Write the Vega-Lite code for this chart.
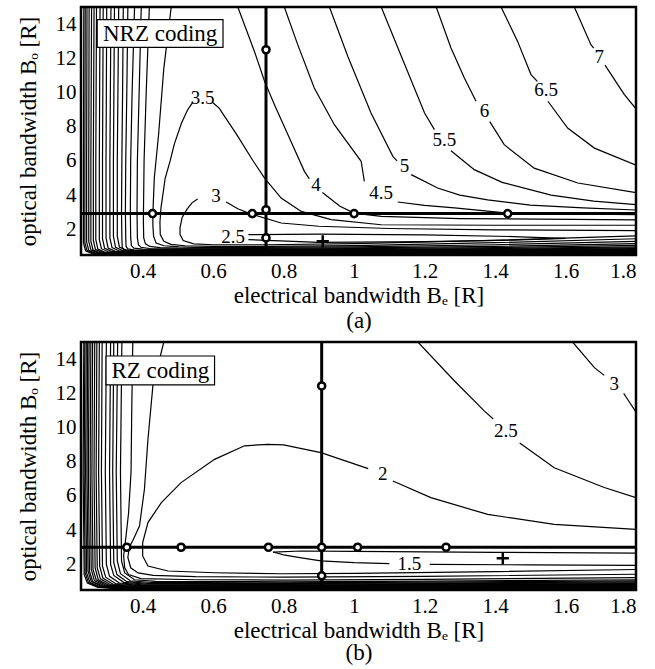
{
"$schema": "https://vega.github.io/schema/vega-lite/v6.json",
"padding": {"left": 15, "top": 4, "right": 5, "bottom": 1},
"spacing": 5,
"config": {
 "view": {"stroke": "#000", "strokeWidth": 2.5},
 "font": "Liberation Serif",
 "text": {"font": "Liberation Serif"},
 "axis": {"labelFont": "Liberation Serif", "labelFontSize": 21, "labelColor": "#000", "titleFont": "Liberation Serif", "titleFontSize": 23, "titleFontWeight": "normal", "titleColor": "#000", "domain": false, "grid": false, "ticks": false, "labelPadding": 5, "titleLineHeight": 25}
},
"datasets": {
"aL": [
{"s":"a2.5","x":0.70,"y":1.69},{"s":"a2.5","x":0.9,"y":1.72},{"s":"a2.5","x":1.2,"y":1.68},{"s":"a2.5","x":1.45,"y":1.58},{"s":"a2.5","x":1.6,"y":1.47},{"s":"a2.5","x":1.45,"y":1.37},{"s":"a2.5","x":1.2,"y":1.28},{"s":"a2.5","x":0.9,"y":1.24},{"s":"a2.5","x":0.70,"y":1.40},
{"s":"a3L","x":1.8,"y":1.62},{"s":"a3L","x":1.4,"y":1.36},{"s":"a3L","x":1.0,"y":1.17},{"s":"a3L","x":0.75,"y":1.1},{"s":"a3L","x":0.6,"y":1.1},{"s":"a3L","x":0.545,"y":1.15},{"s":"a3L","x":0.515,"y":1.35},{"s":"a3L","x":0.506,"y":1.7},{"s":"a3L","x":0.506,"y":2.1},{"s":"a3L","x":0.512,"y":2.7},{"s":"a3L","x":0.525,"y":3.15},{"s":"a3L","x":0.54,"y":3.55},{"s":"a3L","x":0.556,"y":3.78},
{"s":"a3R","x":0.637,"y":3.6},{"s":"a3R","x":0.67,"y":3.2},{"s":"a3R","x":0.708,"y":2.89},{"s":"a3R","x":0.793,"y":2.37},{"s":"a3R","x":0.9,"y":2.18},{"s":"a3R","x":1.1,"y":2.05},{"s":"a3R","x":1.4,"y":1.97},{"s":"a3R","x":1.8,"y":1.92},
{"s":"a35L","x":1.8,"y":1.45},{"s":"a35L","x":1.4,"y":1.22},{"s":"a35L","x":1.0,"y":1.05},{"s":"a35L","x":0.75,"y":1.0},{"s":"a35L","x":0.6,"y":1.0},{"s":"a35L","x":0.52,"y":1.04},{"s":"a35L","x":0.48,"y":1.12},{"s":"a35L","x":0.46,"y":1.3},{"s":"a35L","x":0.45,"y":1.7},{"s":"a35L","x":0.449,"y":2.4},{"s":"a35L","x":0.452,"y":3.26},{"s":"a35L","x":0.464,"y":5.0},{"s":"a35L","x":0.478,"y":6.0},{"s":"a35L","x":0.49,"y":7.0},{"s":"a35L","x":0.51,"y":8.2},{"s":"a35L","x":0.528,"y":9.0},{"s":"a35L","x":0.543,"y":9.45},
{"s":"a35R","x":0.597,"y":9.45},{"s":"a35R","x":0.617,"y":9.09},{"s":"a35R","x":0.667,"y":7.54},{"s":"a35R","x":0.714,"y":5.98},{"s":"a35R","x":0.746,"y":5.0},{"s":"a35R","x":0.793,"y":3.83},{"s":"a35R","x":0.85,"y":3.05},{"s":"a35R","x":0.935,"y":2.57},{"s":"a35R","x":1.077,"y":2.27},{"s":"a35R","x":1.4,"y":2.24},{"s":"a35R","x":1.8,"y":2.24},
{"s":"a4L","x":1.8,"y":1.3},{"s":"a4L","x":1.4,"y":1.1},{"s":"a4L","x":1.0,"y":0.98},{"s":"a4L","x":0.7,"y":0.94},{"s":"a4L","x":0.55,"y":0.95},{"s":"a4L","x":0.504,"y":0.97},{"s":"a4L","x":0.46,"y":1.04},{"s":"a4L","x":0.438,"y":1.2},{"s":"a4L","x":0.431,"y":1.6},{"s":"a4L","x":0.429,"y":2.2},{"s":"a4L","x":0.429,"y":2.92},{"s":"a4L","x":0.433,"y":5.0},{"s":"a4L","x":0.445,"y":7.5},{"s":"a4L","x":0.46,"y":11.4},{"s":"a4L","x":0.481,"y":15},
{"s":"a4R1","x":0.67,"y":15},{"s":"a4R1","x":0.717,"y":12.41},{"s":"a4R1","x":0.746,"y":10.65},{"s":"a4R1","x":0.774,"y":9.29},{"s":"a4R1","x":0.812,"y":7.54},{"s":"a4R1","x":0.859,"y":5.39},{"s":"a4R1","x":0.873,"y":4.95},
{"s":"a4R2","x":0.91,"y":4.15},{"s":"a4R2","x":0.96,"y":3.35},{"s":"a4R2","x":1.0,"y":2.95},{"s":"a4R2","x":1.077,"y":2.76},{"s":"a4R2","x":1.3,"y":2.63},{"s":"a4R2","x":1.8,"y":2.55},
{"s":"a45L","x":1.8,"y":1.17},{"s":"a45L","x":1.4,"y":1.0},{"s":"a45L","x":1.0,"y":0.92},{"s":"a45L","x":0.7,"y":0.89},{"s":"a45L","x":0.5,"y":0.9},{"s":"a45L","x":0.45,"y":0.93},{"s":"a45L","x":0.42,"y":1.0},{"s":"a45L","x":0.408,"y":1.15},{"s":"a45L","x":0.403,"y":1.5},{"s":"a45L","x":0.402,"y":2.5},{"s":"a45L","x":0.404,"y":6},{"s":"a45L","x":0.41,"y":10},{"s":"a45L","x":0.419,"y":15},
{"s":"a45R1","x":0.802,"y":15},{"s":"a45R1","x":0.84,"y":12.8},{"s":"a45R1","x":0.887,"y":10.26},{"s":"a45R1","x":0.944,"y":8.12},{"s":"a45R1","x":1.02,"y":5.98},{"s":"a45R1","x":1.029,"y":4.81},
{"s":"a45R2","x":1.124,"y":3.6},{"s":"a45R2","x":1.2,"y":3.4},{"s":"a45R2","x":1.285,"y":3.25},{"s":"a45R2","x":1.436,"y":2.95},{"s":"a45R2","x":1.6,"y":2.9},{"s":"a45R2","x":1.8,"y":2.86},
{"s":"a5L","x":1.8,"y":1.06},{"s":"a5L","x":1.4,"y":0.93},{"s":"a5L","x":1.0,"y":0.87},{"s":"a5L","x":0.7,"y":0.85},{"s":"a5L","x":0.48,"y":0.86},{"s":"a5L","x":0.42,"y":0.88},{"s":"a5L","x":0.395,"y":0.95},{"s":"a5L","x":0.388,"y":1.1},{"s":"a5L","x":0.385,"y":1.5},{"s":"a5L","x":0.384,"y":3},{"s":"a5L","x":0.385,"y":6},{"s":"a5L","x":0.39,"y":10},{"s":"a5L","x":0.396,"y":15},
{"s":"a5R1","x":0.93,"y":15},{"s":"a5R1","x":0.982,"y":12.12},{"s":"a5R1","x":1.048,"y":8.8},{"s":"a5R1","x":1.11,"y":6.27},{"s":"a5R1","x":1.122,"y":6.0},
{"s":"a5R2","x":1.162,"y":5.2},{"s":"a5R2","x":1.237,"y":4.42},{"s":"a5R2","x":1.3,"y":4.0},{"s":"a5R2","x":1.379,"y":3.72},{"s":"a5R2","x":1.5,"y":3.42},{"s":"a5R2","x":1.65,"y":3.25},{"s":"a5R2","x":1.8,"y":3.13},
{"s":"a55L","x":1.8,"y":0.98},{"s":"a55L","x":1.4,"y":0.88},{"s":"a55L","x":1.0,"y":0.83},{"s":"a55L","x":0.7,"y":0.81},{"s":"a55L","x":0.45,"y":0.82},{"s":"a55L","x":0.4,"y":0.84},{"s":"a55L","x":0.375,"y":0.9},{"s":"a55L","x":0.368,"y":1.05},{"s":"a55L","x":0.366,"y":1.5},{"s":"a55L","x":0.365,"y":3},{"s":"a55L","x":0.366,"y":6},{"s":"a55L","x":0.37,"y":10},{"s":"a55L","x":0.377,"y":15},
{"s":"a55R1","x":1.077,"y":15},{"s":"a55R1","x":1.134,"y":12.12},{"s":"a55R1","x":1.2,"y":8.8},{"s":"a55R1","x":1.228,"y":7.83},
{"s":"a55R2","x":1.275,"y":6.6},{"s":"a55R2","x":1.341,"y":5.49},{"s":"a55R2","x":1.42,"y":4.75},{"s":"a55R2","x":1.559,"y":4.0},{"s":"a55R2","x":1.68,"y":3.65},{"s":"a55R2","x":1.8,"y":3.44},
{"s":"a6L","x":1.8,"y":0.92},{"s":"a6L","x":1.4,"y":0.84},{"s":"a6L","x":1.0,"y":0.8},{"s":"a6L","x":0.7,"y":0.78},{"s":"a6L","x":0.42,"y":0.78},{"s":"a6L","x":0.375,"y":0.8},{"s":"a6L","x":0.358,"y":0.86},{"s":"a6L","x":0.353,"y":1.0},{"s":"a6L","x":0.352,"y":1.5},{"s":"a6L","x":0.351,"y":3},{"s":"a6L","x":0.352,"y":6},{"s":"a6L","x":0.355,"y":10},{"s":"a6L","x":0.358,"y":15},
{"s":"a6R1","x":1.233,"y":15},{"s":"a6R1","x":1.275,"y":12.6},{"s":"a6R1","x":1.313,"y":10.85},{"s":"a6R1","x":1.346,"y":9.49},
{"s":"a6R2","x":1.385,"y":8.3},{"s":"a6R2","x":1.426,"y":6.95},{"s":"a6R2","x":1.511,"y":5.58},{"s":"a6R2","x":1.635,"y":4.71},{"s":"a6R2","x":1.8,"y":4.15},
{"s":"a65L","x":1.8,"y":0.87},{"s":"a65L","x":1.4,"y":0.8},{"s":"a65L","x":1.0,"y":0.77},{"s":"a65L","x":0.7,"y":0.75},{"s":"a65L","x":0.4,"y":0.75},{"s":"a65L","x":0.36,"y":0.77},{"s":"a65L","x":0.346,"y":0.82},{"s":"a65L","x":0.342,"y":0.95},{"s":"a65L","x":0.341,"y":1.5},{"s":"a65L","x":0.34,"y":3},{"s":"a65L","x":0.341,"y":6},{"s":"a65L","x":0.343,"y":10},{"s":"a65L","x":0.345,"y":15},
{"s":"a65R1","x":1.417,"y":15},{"s":"a65R1","x":1.464,"y":12.99},{"s":"a65R1","x":1.502,"y":11.05},{"s":"a65R1","x":1.52,"y":10.65},
{"s":"a65R2","x":1.55,"y":9.49},{"s":"a65R2","x":1.606,"y":7.92},{"s":"a65R2","x":1.682,"y":6.75},{"s":"a65R2","x":1.8,"y":5.75},
{"s":"a7L","x":1.8,"y":0.83},{"s":"a7L","x":1.0,"y":0.75},{"s":"a7L","x":0.7,"y":0.72},{"s":"a7L","x":0.398,"y":0.73},{"s":"a7L","x":0.353,"y":0.79},{"s":"a7L","x":0.334,"y":0.97},{"s":"a7L","x":0.328,"y":1.6},{"s":"a7L","x":0.328,"y":6},{"s":"a7L","x":0.332,"y":15},
{"s":"a7R1","x":1.625,"y":15},{"s":"a7R1","x":1.672,"y":12.8},{"s":"a7R1","x":1.68,"y":12.6},
{"s":"a7R2","x":1.712,"y":11.6},{"s":"a7R2","x":1.767,"y":9.88},{"s":"a7R2","x":1.8,"y":9.05},
{"s":"a75","x":1.8,"y":0.79},{"s":"a75","x":1.0,"y":0.73},{"s":"a75","x":0.7,"y":0.70},{"s":"a75","x":0.387,"y":0.71},{"s":"a75","x":0.342,"y":0.77},{"s":"a75","x":0.323,"y":0.95},{"s":"a75","x":0.317,"y":1.6},{"s":"a75","x":0.317,"y":6},{"s":"a75","x":0.320,"y":15},
{"s":"a8","x":1.8,"y":0.77},{"s":"a8","x":1.0,"y":0.71},{"s":"a8","x":0.7,"y":0.68},{"s":"a8","x":0.377,"y":0.69},{"s":"a8","x":0.332,"y":0.75},{"s":"a8","x":0.313,"y":0.93},{"s":"a8","x":0.307,"y":1.5},{"s":"a8","x":0.307,"y":6},{"s":"a8","x":0.310,"y":15},
{"s":"a85","x":1.8,"y":0.75},{"s":"a85","x":1.0,"y":0.69},{"s":"a85","x":0.7,"y":0.66},{"s":"a85","x":0.366,"y":0.67},{"s":"a85","x":0.321,"y":0.73},{"s":"a85","x":0.302,"y":0.91},{"s":"a85","x":0.296,"y":1.5},{"s":"a85","x":0.296,"y":6},{"s":"a85","x":0.298,"y":15},
{"s":"a9","x":1.8,"y":0.73},{"s":"a9","x":1.0,"y":0.67},{"s":"a9","x":0.7,"y":0.64},{"s":"a9","x":0.356,"y":0.65},{"s":"a9","x":0.311,"y":0.71},{"s":"a9","x":0.292,"y":0.89},{"s":"a9","x":0.286,"y":1.45},{"s":"a9","x":0.286,"y":6},{"s":"a9","x":0.288,"y":15},
{"s":"a95","x":1.8,"y":0.71},{"s":"a95","x":1.0,"y":0.65},{"s":"a95","x":0.7,"y":0.62},{"s":"a95","x":0.347,"y":0.63},{"s":"a95","x":0.302,"y":0.69},{"s":"a95","x":0.283,"y":0.87},{"s":"a95","x":0.277,"y":1.4},{"s":"a95","x":0.277,"y":6},{"s":"a95","x":0.279,"y":15},
{"s":"a10","x":1.8,"y":0.69},{"s":"a10","x":1.0,"y":0.63},{"s":"a10","x":0.7,"y":0.60},{"s":"a10","x":0.337,"y":0.61},{"s":"a10","x":0.292,"y":0.67},{"s":"a10","x":0.273,"y":0.85},{"s":"a10","x":0.267,"y":1.4},{"s":"a10","x":0.267,"y":6},{"s":"a10","x":0.269,"y":15},
{"s":"a105","x":1.8,"y":0.67},{"s":"a105","x":1.0,"y":0.61},{"s":"a105","x":0.7,"y":0.585},{"s":"a105","x":0.33,"y":0.595},{"s":"a105","x":0.285,"y":0.655},{"s":"a105","x":0.266,"y":0.83},{"s":"a105","x":0.26,"y":1.35},{"s":"a105","x":0.26,"y":6},{"s":"a105","x":0.262,"y":15},
{"s":"a11","x":1.8,"y":0.65},{"s":"a11","x":1.0,"y":0.595},{"s":"a11","x":0.7,"y":0.57},{"s":"a11","x":0.323,"y":0.58},{"s":"a11","x":0.278,"y":0.64},{"s":"a11","x":0.259,"y":0.81},{"s":"a11","x":0.253,"y":1.3},{"s":"a11","x":0.253,"y":6},{"s":"a11","x":0.255,"y":15},
{"s":"a115","x":1.8,"y":0.63},{"s":"a115","x":1.0,"y":0.58},{"s":"a115","x":0.7,"y":0.555},{"s":"a115","x":0.317,"y":0.565},{"s":"a115","x":0.272,"y":0.625},{"s":"a115","x":0.253,"y":0.8},{"s":"a115","x":0.247,"y":1.3},{"s":"a115","x":0.247,"y":6},{"s":"a115","x":0.248,"y":15},
{"s":"a12","x":1.8,"y":0.61},{"s":"a12","x":1.0,"y":0.565},{"s":"a12","x":0.7,"y":0.54},{"s":"a12","x":0.311,"y":0.55},{"s":"a12","x":0.266,"y":0.61},{"s":"a12","x":0.247,"y":0.78},{"s":"a12","x":0.241,"y":1.25},{"s":"a12","x":0.241,"y":6},{"s":"a12","x":0.242,"y":15},
{"s":"a125","x":1.8,"y":0.59},{"s":"a125","x":1.0,"y":0.55},{"s":"a125","x":0.7,"y":0.525},{"s":"a125","x":0.306,"y":0.535},{"s":"a125","x":0.261,"y":0.595},{"s":"a125","x":0.242,"y":0.77},{"s":"a125","x":0.236,"y":1.2},{"s":"a125","x":0.236,"y":6},{"s":"a125","x":0.237,"y":15},
{"s":"a13","x":1.8,"y":0.57},{"s":"a13","x":1.0,"y":0.535},{"s":"a13","x":0.7,"y":0.51},{"s":"a13","x":0.302,"y":0.52},{"s":"a13","x":0.257,"y":0.58},{"s":"a13","x":0.238,"y":0.75},{"s":"a13","x":0.232,"y":1.2},{"s":"a13","x":0.232,"y":6},{"s":"a13","x":0.233,"y":15}
],
"bL": [
{"s":"b15U","x":0.77,"y":2.72},{"s":"b15U","x":0.85,"y":2.78},{"s":"b15U","x":1.0,"y":2.76},{"s":"b15U","x":1.4,"y":2.7},{"s":"b15U","x":1.8,"y":2.66},
{"s":"b15L1","x":0.77,"y":2.72},{"s":"b15L1","x":0.8,"y":2.55},{"s":"b15L1","x":0.85,"y":2.38},{"s":"b15L1","x":0.906,"y":2.2},{"s":"b15L1","x":1.0,"y":2.1},{"s":"b15L1","x":1.1,"y":2.04},
{"s":"b15L2","x":1.215,"y":2.0},{"s":"b15L2","x":1.5,"y":1.97},{"s":"b15L2","x":1.8,"y":1.94},
{"s":"b2a","x":1.8,"y":4.05},{"s":"b2a","x":1.568,"y":4.34},{"s":"b2a","x":1.379,"y":4.92},{"s":"b2a","x":1.218,"y":5.9},{"s":"b2a","x":1.11,"y":6.87},
{"s":"b2b","x":1.04,"y":7.6},{"s":"b2b","x":0.906,"y":8.53},{"s":"b2b","x":0.8,"y":8.98},{"s":"b2b","x":0.755,"y":9.02},{"s":"b2b","x":0.689,"y":8.93},{"s":"b2b","x":0.604,"y":8.14},{"s":"b2b","x":0.509,"y":6.78},{"s":"b2b","x":0.453,"y":5.61},{"s":"b2b","x":0.415,"y":4.44},{"s":"b2b","x":0.4,"y":3.27},{"s":"b2b","x":0.4,"y":2.49},{"s":"b2b","x":0.415,"y":1.9},{"s":"b2b","x":0.472,"y":1.61},{"s":"b2b","x":0.604,"y":1.51},{"s":"b2b","x":0.793,"y":1.45},{"s":"b2b","x":1.0,"y":1.47},{"s":"b2b","x":1.4,"y":1.58},{"s":"b2b","x":1.8,"y":1.7},
{"s":"b25a","x":1.181,"y":15},{"s":"b25a","x":1.285,"y":12.72},{"s":"b25a","x":1.37,"y":10.96},{"s":"b25a","x":1.395,"y":10.5},
{"s":"b25b","x":1.47,"y":9.1},{"s":"b25b","x":1.568,"y":7.65},{"s":"b25b","x":1.71,"y":6.49},{"s":"b25b","x":1.8,"y":5.9},
{"s":"b25L","x":0.46,"y":15},{"s":"b25L","x":0.429,"y":12.43},{"s":"b25L","x":0.415,"y":9.31},{"s":"b25L","x":0.405,"y":6.39},{"s":"b25L","x":0.391,"y":4.24},{"s":"b25L","x":0.372,"y":3.4},{"s":"b25L","x":0.362,"y":3.0},{"s":"b25L","x":0.358,"y":2.4},{"s":"b25L","x":0.366,"y":1.8},{"s":"b25L","x":0.387,"y":1.5},{"s":"b25L","x":0.43,"y":1.35},{"s":"b25L","x":0.55,"y":1.28},{"s":"b25L","x":0.8,"y":1.25},{"s":"b25L","x":1.2,"y":1.3},{"s":"b25L","x":1.8,"y":1.42},
{"s":"b3a","x":1.62,"y":15},{"s":"b3a","x":1.682,"y":13.5},{"s":"b3a","x":1.71,"y":13.05},
{"s":"b3b","x":1.765,"y":12.0},{"s":"b3b","x":1.776,"y":11.65},{"s":"b3b","x":1.8,"y":10.9},
{"s":"b3L","x":0.372,"y":15},{"s":"b3L","x":0.369,"y":11},{"s":"b3L","x":0.367,"y":7.4},{"s":"b3L","x":0.36,"y":5},{"s":"b3L","x":0.352,"y":3.5},{"s":"b3L","x":0.346,"y":2.5},{"s":"b3L","x":0.349,"y":1.8},{"s":"b3L","x":0.36,"y":1.4},{"s":"b3L","x":0.395,"y":1.17},{"s":"b3L","x":0.55,"y":1.1},{"s":"b3L","x":0.8,"y":1.08},{"s":"b3L","x":1.2,"y":1.12},{"s":"b3L","x":1.8,"y":1.22},
{"s":"b35","x":1.8,"y":1.1},{"s":"b35","x":1.2,"y":1.02},{"s":"b35","x":0.8,"y":0.98},{"s":"b35","x":0.437,"y":1.0},{"s":"b35","x":0.377,"y":1.1},{"s":"b35","x":0.349,"y":1.5},{"s":"b35","x":0.34,"y":2.2},{"s":"b35","x":0.337,"y":7.4},{"s":"b35","x":0.341,"y":15},
{"s":"b4","x":1.8,"y":1.03},{"s":"b4","x":1.2,"y":0.96},{"s":"b4","x":0.8,"y":0.92},{"s":"b4","x":0.425,"y":0.94},{"s":"b4","x":0.365,"y":1.04},{"s":"b4","x":0.337,"y":1.45},{"s":"b4","x":0.328,"y":2.2},{"s":"b4","x":0.325,"y":7.4},{"s":"b4","x":0.329,"y":15},
{"s":"b45","x":1.8,"y":0.97},{"s":"b45","x":1.2,"y":0.91},{"s":"b45","x":0.8,"y":0.87},{"s":"b45","x":0.415,"y":0.89},{"s":"b45","x":0.355,"y":0.99},{"s":"b45","x":0.327,"y":1.4},{"s":"b45","x":0.318,"y":2.1},{"s":"b45","x":0.315,"y":7.4},{"s":"b45","x":0.318,"y":15},
{"s":"b5","x":1.8,"y":0.92},{"s":"b5","x":1.2,"y":0.87},{"s":"b5","x":0.8,"y":0.83},{"s":"b5","x":0.406,"y":0.85},{"s":"b5","x":0.346,"y":0.95},{"s":"b5","x":0.318,"y":1.35},{"s":"b5","x":0.309,"y":2.0},{"s":"b5","x":0.306,"y":7.4},{"s":"b5","x":0.309,"y":15},
{"s":"b55","x":1.8,"y":0.88},{"s":"b55","x":1.2,"y":0.83},{"s":"b55","x":0.8,"y":0.79},{"s":"b55","x":0.394,"y":0.81},{"s":"b55","x":0.334,"y":0.91},{"s":"b55","x":0.306,"y":1.3},{"s":"b55","x":0.297,"y":2.0},{"s":"b55","x":0.294,"y":7.4},{"s":"b55","x":0.297,"y":15},
{"s":"b6","x":1.8,"y":0.84},{"s":"b6","x":1.2,"y":0.8},{"s":"b6","x":0.8,"y":0.76},{"s":"b6","x":0.383,"y":0.78},{"s":"b6","x":0.323,"y":0.88},{"s":"b6","x":0.295,"y":1.25},{"s":"b6","x":0.286,"y":1.9},{"s":"b6","x":0.283,"y":7.4},{"s":"b6","x":0.285,"y":15},
{"s":"b65","x":1.8,"y":0.81},{"s":"b65","x":1.2,"y":0.77},{"s":"b65","x":0.8,"y":0.73},{"s":"b65","x":0.375,"y":0.75},{"s":"b65","x":0.315,"y":0.85},{"s":"b65","x":0.287,"y":1.2},{"s":"b65","x":0.278,"y":1.9},{"s":"b65","x":0.275,"y":7.4},{"s":"b65","x":0.277,"y":15},
{"s":"b7","x":1.8,"y":0.78},{"s":"b7","x":1.2,"y":0.74},{"s":"b7","x":0.8,"y":0.70},{"s":"b7","x":0.368,"y":0.72},{"s":"b7","x":0.308,"y":0.82},{"s":"b7","x":0.28,"y":1.15},{"s":"b7","x":0.271,"y":1.8},{"s":"b7","x":0.268,"y":7.4},{"s":"b7","x":0.27,"y":15},
{"s":"b75","x":1.8,"y":0.75},{"s":"b75","x":1.2,"y":0.715},{"s":"b75","x":0.8,"y":0.68},{"s":"b75","x":0.362,"y":0.70},{"s":"b75","x":0.302,"y":0.8},{"s":"b75","x":0.274,"y":1.1},{"s":"b75","x":0.265,"y":1.8},{"s":"b75","x":0.262,"y":7.4},{"s":"b75","x":0.264,"y":15},
{"s":"b8","x":1.8,"y":0.72},{"s":"b8","x":1.2,"y":0.69},{"s":"b8","x":0.8,"y":0.66},{"s":"b8","x":0.356,"y":0.68},{"s":"b8","x":0.296,"y":0.78},{"s":"b8","x":0.268,"y":1.1},{"s":"b8","x":0.259,"y":1.7},{"s":"b8","x":0.256,"y":7.4},{"s":"b8","x":0.258,"y":15},
{"s":"b85","x":1.8,"y":0.7},{"s":"b85","x":1.2,"y":0.67},{"s":"b85","x":0.8,"y":0.64},{"s":"b85","x":0.351,"y":0.66},{"s":"b85","x":0.291,"y":0.76},{"s":"b85","x":0.263,"y":1.05},{"s":"b85","x":0.254,"y":1.7},{"s":"b85","x":0.251,"y":7.4},{"s":"b85","x":0.253,"y":15},
{"s":"b9","x":1.8,"y":0.68},{"s":"b9","x":1.2,"y":0.65},{"s":"b9","x":0.8,"y":0.62},{"s":"b9","x":0.346,"y":0.64},{"s":"b9","x":0.286,"y":0.74},{"s":"b9","x":0.258,"y":1.0},{"s":"b9","x":0.249,"y":1.6},{"s":"b9","x":0.246,"y":7.4},{"s":"b9","x":0.248,"y":15},
{"s":"b95","x":1.8,"y":0.66},{"s":"b95","x":1.2,"y":0.63},{"s":"b95","x":0.8,"y":0.6},{"s":"b95","x":0.342,"y":0.62},{"s":"b95","x":0.282,"y":0.72},{"s":"b95","x":0.254,"y":1.0},{"s":"b95","x":0.245,"y":1.6},{"s":"b95","x":0.242,"y":7.4},{"s":"b95","x":0.244,"y":15},
{"s":"b10","x":1.8,"y":0.64},{"s":"b10","x":1.2,"y":0.61},{"s":"b10","x":0.8,"y":0.58},{"s":"b10","x":0.338,"y":0.6},{"s":"b10","x":0.278,"y":0.7},{"s":"b10","x":0.25,"y":0.95},{"s":"b10","x":0.241,"y":1.5},{"s":"b10","x":0.238,"y":7.4},{"s":"b10","x":0.24,"y":15},
{"s":"b105","x":1.8,"y":0.62},{"s":"b105","x":1.2,"y":0.59},{"s":"b105","x":0.8,"y":0.56},{"s":"b105","x":0.334,"y":0.58},{"s":"b105","x":0.274,"y":0.68},{"s":"b105","x":0.246,"y":0.93},{"s":"b105","x":0.237,"y":1.5},{"s":"b105","x":0.234,"y":7.4},{"s":"b105","x":0.236,"y":15},
{"s":"b11","x":1.8,"y":0.6},{"s":"b11","x":1.2,"y":0.57},{"s":"b11","x":0.8,"y":0.54},{"s":"b11","x":0.331,"y":0.56},{"s":"b11","x":0.271,"y":0.66},{"s":"b11","x":0.243,"y":0.9},{"s":"b11","x":0.234,"y":1.4},{"s":"b11","x":0.231,"y":7.4},{"s":"b11","x":0.233,"y":15}
],
"aH": [{"y":2.92}],
"aV": [{"x":0.75}],
"aC": [{"x":0.428,"y":2.92},{"x":0.711,"y":2.92},{"x":0.75,"y":3.15},{"x":0.75,"y":12.5},{"x":0.75,"y":1.5},{"x":1.0,"y":2.92},{"x":1.436,"y":2.92}],
"aX": [{"x":0.911,"y":1.3}],
"aT": [{"t":"2.5","x":0.657,"y":1.55},{"t":"3","x":0.608,"y":3.93},{"t":"3.5","x":0.57,"y":9.68},{"t":"4","x":0.892,"y":4.61},{"t":"4.5","x":1.077,"y":4.12},{"t":"5","x":1.143,"y":5.68},{"t":"5.5","x":1.256,"y":7.25},{"t":"6","x":1.37,"y":8.9},{"t":"6.5","x":1.545,"y":10.17},{"t":"7","x":1.696,"y":12.1}],
"aB": [{"x1":0.271,"x2":0.628,"y1":12.64,"y2":14.26,"xc":0.4495,"yc":13.45,"t":"NRZ coding"}],
"bH": [{"y":3.0}],
"bV": [{"x":0.908}],
"bC": [{"x":0.355,"y":3.0},{"x":0.509,"y":3.0},{"x":0.757,"y":3.0},{"x":0.908,"y":3.0},{"x":1.01,"y":3.0},{"x":1.261,"y":3.0},{"x":0.908,"y":12.43},{"x":0.908,"y":1.33}],
"bX": [{"x":1.422,"y":2.35}],
"bT": [{"t":"1.5","x":1.157,"y":2.0},{"t":"2","x":1.081,"y":7.26},{"t":"2.5","x":1.431,"y":9.8},{"t":"3","x":1.738,"y":12.53}],
"bB": [{"x1":0.296,"x2":0.604,"y1":12.49,"y2":14.18,"xc":0.45,"yc":13.33,"t":"RZ coding"}]
},
"vconcat": [
{"width": 555, "height": 248, "layer": [
 {"data": {"name": "aL"}, "mark": {"type": "line", "stroke": "#000", "strokeWidth": 1.2, "clip": true},
  "encoding": {"x": {"field": "x", "type": "quantitative", "scale": {"domain": [0.225, 1.8], "nice": false, "zero": false}, "axis": {"values": [0.4,0.6,0.8,1,1.2,1.4,1.6,1.8], "format": ".1~f", "title": ["electrical bandwidth Bₑ [R]", "(a)"], "titlePadding": 3, "labelFont": "Liberation Serif", "titleFont": "Liberation Serif", "titleLineHeight": 25}},
   "y": {"field": "y", "type": "quantitative", "scale": {"domain": [0.5, 15], "nice": false, "zero": false}, "axis": {"values": [2,4,6,8,10,12,14], "title": "optical bandwidth Bₒ [R]", "titlePadding": 15, "labelFont": "Liberation Serif", "titleFont": "Liberation Serif"}},
   "detail": {"field": "s"}, "order": {"value": null}}},
 {"data": {"name": "aH"}, "mark": {"type": "rule", "stroke": "#000", "strokeWidth": 3}, "encoding": {"y": {"field": "y", "type": "quantitative", "scale": {"domain": [0.5, 15], "nice": false, "zero": false}}}},
 {"data": {"name": "aV"}, "mark": {"type": "rule", "stroke": "#000", "strokeWidth": 3}, "encoding": {"x": {"field": "x", "type": "quantitative", "scale": {"domain": [0.225, 1.8], "nice": false, "zero": false}}}},
 {"data": {"name": "aC"}, "mark": {"type": "point", "shape": "circle", "filled": true, "fill": "#fff", "stroke": "#000", "strokeWidth": 2.5, "size": 50, "opacity": 1},
  "encoding": {"x": {"field": "x", "type": "quantitative", "scale": {"domain": [0.225, 1.8], "nice": false, "zero": false}}, "y": {"field": "y", "type": "quantitative", "scale": {"domain": [0.5, 15], "nice": false, "zero": false}}}},
 {"data": {"name": "aX"}, "mark": {"type": "point", "shape": "M -1 0 L 1 0 M 0 -1 L 0 1", "filled": false, "stroke": "#000", "strokeWidth": 2.5, "size": 150, "opacity": 1},
  "encoding": {"x": {"field": "x", "type": "quantitative", "scale": {"domain": [0.225, 1.8], "nice": false, "zero": false}}, "y": {"field": "y", "type": "quantitative", "scale": {"domain": [0.5, 15], "nice": false, "zero": false}}}},
 {"data": {"name": "aT"}, "mark": {"type": "text", "font": "Liberation Serif", "fontSize": 19, "color": "#000", "baseline": "middle", "align": "center"},
  "encoding": {"x": {"field": "x", "type": "quantitative", "scale": {"domain": [0.225, 1.8], "nice": false, "zero": false}}, "y": {"field": "y", "type": "quantitative", "scale": {"domain": [0.5, 15], "nice": false, "zero": false}}, "text": {"field": "t"}}},
 {"data": {"name": "aB"}, "mark": {"type": "rect", "fill": "#fff", "stroke": "#000", "strokeWidth": 1.2},
  "encoding": {"x": {"field": "x1", "type": "quantitative", "scale": {"domain": [0.225, 1.8], "nice": false, "zero": false}}, "x2": {"field": "x2"}, "y": {"field": "y1", "type": "quantitative", "scale": {"domain": [0.5, 15], "nice": false, "zero": false}}, "y2": {"field": "y2"}}},
 {"data": {"name": "aB"}, "mark": {"type": "text", "font": "Liberation Serif", "fontSize": 23, "color": "#000", "baseline": "middle", "align": "center"},
  "encoding": {"x": {"field": "xc", "type": "quantitative", "scale": {"domain": [0.225, 1.8], "nice": false, "zero": false}}, "y": {"field": "yc", "type": "quantitative", "scale": {"domain": [0.5, 15], "nice": false, "zero": false}}, "text": {"field": "t"}}}
]},
{"width": 555, "height": 248, "layer": [
 {"data": {"name": "bL"}, "mark": {"type": "line", "stroke": "#000", "strokeWidth": 1.2, "clip": true},
  "encoding": {"x": {"field": "x", "type": "quantitative", "scale": {"domain": [0.225, 1.8], "nice": false, "zero": false}, "axis": {"values": [0.4,0.6,0.8,1,1.2,1.4,1.6,1.8], "format": ".1~f", "title": ["electrical bandwidth Bₑ [R]", "(b)"], "titlePadding": 3, "labelFont": "Liberation Serif", "titleFont": "Liberation Serif", "titleLineHeight": 22}},
   "y": {"field": "y", "type": "quantitative", "scale": {"domain": [0.5, 15], "nice": false, "zero": false}, "axis": {"values": [2,4,6,8,10,12,14], "title": "optical bandwidth Bₒ [R]", "titlePadding": 15, "labelFont": "Liberation Serif", "titleFont": "Liberation Serif"}},
   "detail": {"field": "s"}, "order": {"value": null}}},
 {"data": {"name": "bH"}, "mark": {"type": "rule", "stroke": "#000", "strokeWidth": 3}, "encoding": {"y": {"field": "y", "type": "quantitative", "scale": {"domain": [0.5, 15], "nice": false, "zero": false}}}},
 {"data": {"name": "bV"}, "mark": {"type": "rule", "stroke": "#000", "strokeWidth": 3}, "encoding": {"x": {"field": "x", "type": "quantitative", "scale": {"domain": [0.225, 1.8], "nice": false, "zero": false}}}},
 {"data": {"name": "bC"}, "mark": {"type": "point", "shape": "circle", "filled": true, "fill": "#fff", "stroke": "#000", "strokeWidth": 2.5, "size": 50, "opacity": 1},
  "encoding": {"x": {"field": "x", "type": "quantitative", "scale": {"domain": [0.225, 1.8], "nice": false, "zero": false}}, "y": {"field": "y", "type": "quantitative", "scale": {"domain": [0.5, 15], "nice": false, "zero": false}}}},
 {"data": {"name": "bX"}, "mark": {"type": "point", "shape": "M -1 0 L 1 0 M 0 -1 L 0 1", "filled": false, "stroke": "#000", "strokeWidth": 2.5, "size": 150, "opacity": 1},
  "encoding": {"x": {"field": "x", "type": "quantitative", "scale": {"domain": [0.225, 1.8], "nice": false, "zero": false}}, "y": {"field": "y", "type": "quantitative", "scale": {"domain": [0.5, 15], "nice": false, "zero": false}}}},
 {"data": {"name": "bT"}, "mark": {"type": "text", "font": "Liberation Serif", "fontSize": 19, "color": "#000", "baseline": "middle", "align": "center"},
  "encoding": {"x": {"field": "x", "type": "quantitative", "scale": {"domain": [0.225, 1.8], "nice": false, "zero": false}}, "y": {"field": "y", "type": "quantitative", "scale": {"domain": [0.5, 15], "nice": false, "zero": false}}, "text": {"field": "t"}}},
 {"data": {"name": "bB"}, "mark": {"type": "rect", "fill": "#fff", "stroke": "#000", "strokeWidth": 1.2},
  "encoding": {"x": {"field": "x1", "type": "quantitative", "scale": {"domain": [0.225, 1.8], "nice": false, "zero": false}}, "x2": {"field": "x2"}, "y": {"field": "y1", "type": "quantitative", "scale": {"domain": [0.5, 15], "nice": false, "zero": false}}, "y2": {"field": "y2"}}},
 {"data": {"name": "bB"}, "mark": {"type": "text", "font": "Liberation Serif", "fontSize": 23, "color": "#000", "baseline": "middle", "align": "center"},
  "encoding": {"x": {"field": "xc", "type": "quantitative", "scale": {"domain": [0.225, 1.8], "nice": false, "zero": false}}, "y": {"field": "yc", "type": "quantitative", "scale": {"domain": [0.5, 15], "nice": false, "zero": false}}, "text": {"field": "t"}}}
]}
]
}
